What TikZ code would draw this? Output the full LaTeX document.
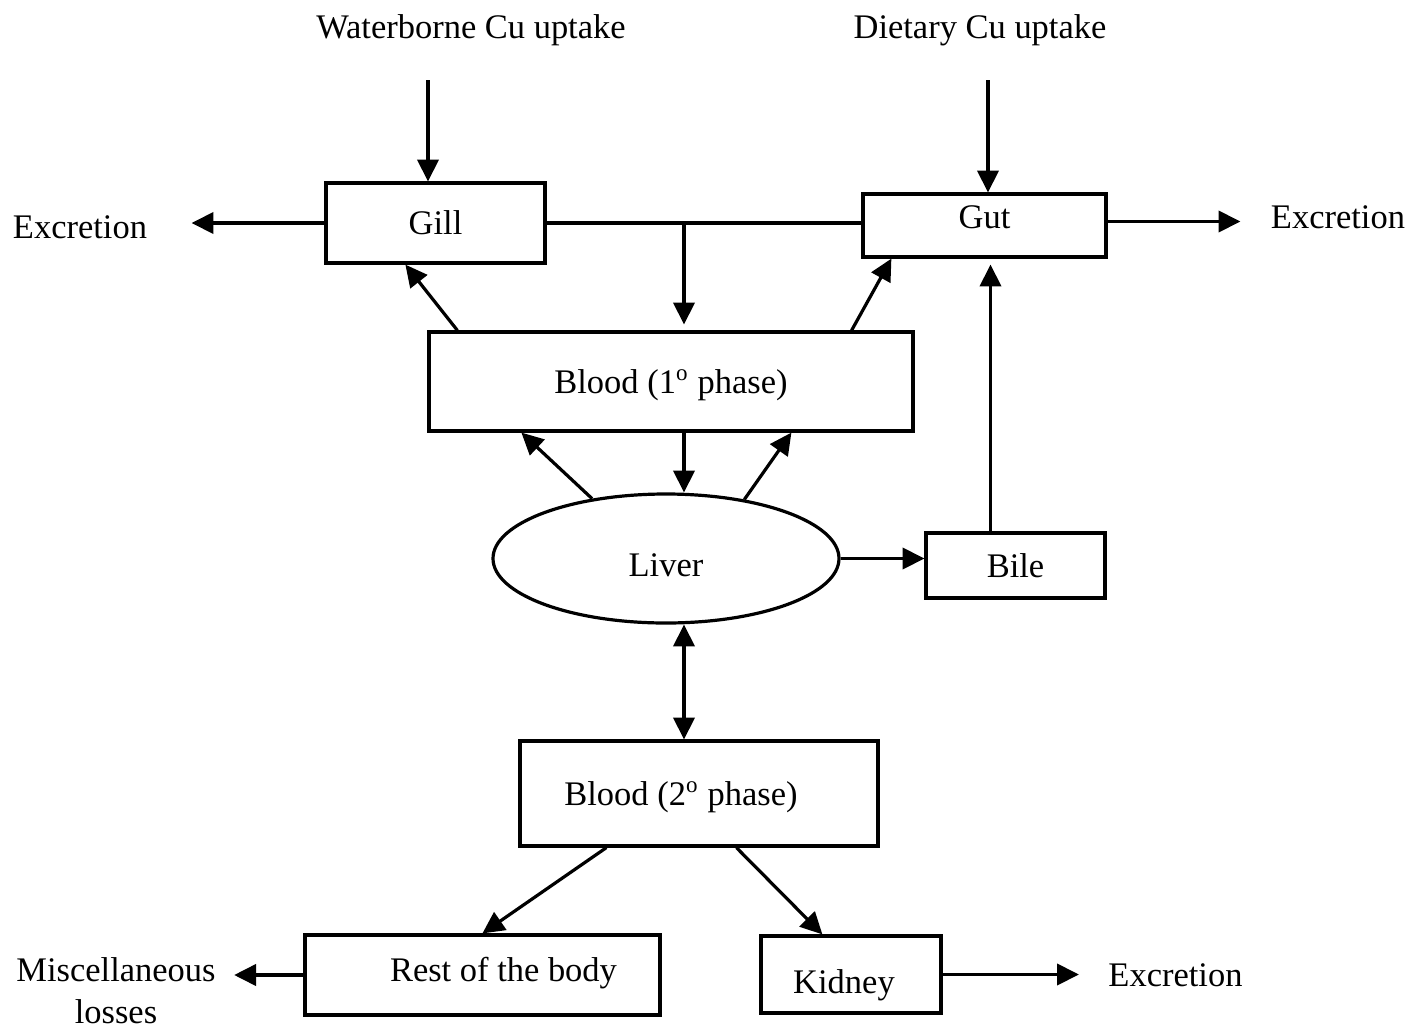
\documentclass[tikz,border=0pt]{standalone}
\usepackage{fontspec}
\setmainfont{Liberation Serif}
\usetikzlibrary{arrows.meta,shapes.geometric}
\newlength{\pxu}
\setlength{\pxu}{0.348pt}
\tikzset{
  blk/.style={draw, inner sep=0pt, text height=23\pxu, text depth=0pt},
  org/.style={blk, ellipse},
  lbl/.style={inner sep=0pt},
  fl/.style={-{Triangle[length=7.6pt,width=7.4pt]}},
  fl2/.style={{Triangle[length=7.6pt,width=7.4pt]}-{Triangle[length=7.6pt,width=7.4pt]}}
}

\begin{document}
\begin{tikzpicture}[x=\pxu, y=-\pxu, line width=3.2\pxu, font=\fontsize{12}{14.6}\selectfont]
\useasboundingbox (0,0) rectangle (1407,1030);
% uptake routes
\node[lbl] (water) at (471,30) {Waterborne Cu uptake};
\node[lbl] (diet) at (980,30) {Dietary Cu uptake};
\coordinate (wIn) at (428,80);
\coordinate (dIn) at (988,80);
% compartments
\node[blk, minimum width=219\pxu, minimum height=80\pxu] (gill) at (435.5,223) {Gill};
\node[blk, minimum width=243\pxu, minimum height=63\pxu, text depth=18\pxu] (gut) at (984.5,225.5) {Gut};
\node[blk, minimum width=484\pxu, minimum height=99\pxu] (bl1) at (671,381.5) {Blood (1\textsuperscript{o} phase)};
\node[org, minimum width=346\pxu, minimum height=129\pxu, text height=36\pxu] (liver) at (666,558.5) {Liver};
\node[blk, minimum width=179\pxu, minimum height=65\pxu] (bile) at (1015.5,565.5) {Bile};
\node[blk, minimum width=358\pxu, minimum height=105\pxu] (bl2) at (699,793.5) {Blood (2\textsuperscript{o} phase)\hspace*{36\pxu}};
\node[blk, minimum width=355\pxu, minimum height=80\pxu, text depth=11\pxu] (rest) at (482.5,975) {\hspace*{42\pxu}Rest of the body};
\node[blk, minimum width=180\pxu, minimum height=77\pxu, text height=38\pxu] (kid) at (851,974.5) {Kidney\hspace*{14\pxu}};
% losses
\node[lbl] (exL) at (80,227) {Excretion};
\node[lbl] (exR) at (1338,217) {Excretion};
\node[lbl, align=center] (misc) at (116,991) {Miscellaneous\\losses};
\node[lbl] (exK) at (1175.5,975) {Excretion};
% flows
\coordinate (j) at (684,223);
\coordinate (bt) at ([xshift=-25\pxu]bile.north);
\draw[fl] (wIn) -- (wIn |- gill.north);
\draw[fl] (dIn) -- (dIn |- gut.north);
\draw[fl, shorten >=43\pxu] (gill.west) -- (gill.west -| exL.east);
\draw[fl, shorten >=29\pxu] ([yshift=4\pxu]gut.east) -- ([yshift=4\pxu]gut.east -| exR.west);
\draw (gill.east) -- (gill.east -| gut.west);
\draw[fl, shorten >=6\pxu] (j) -- (j |- bl1.north);
\draw[fl] ([xshift=30\pxu]bl1.north west) -- ([xshift=81\pxu]gill.south west);
\draw[fl] ([xshift=-63\pxu]bl1.north east) -- ([xshift=30\pxu]gut.south west);
\draw[fl] (liver.141) -- ([xshift=94\pxu]bl1.south west);
\draw[fl] (j |- bl1.south) -- (j |- liver.north);
\draw[fl] (liver.37) -- ([xshift=364\pxu]bl1.south west);
\draw[fl] (liver.east) -- (liver.east -| bile.west);
\draw[fl, shorten >=6\pxu] (bt) -- (bt |- gut.south);
\draw[fl2] (j |- liver.south) -- (j |- bl2.north);
\draw[fl] ([xshift=88\pxu]bl2.south west) -- ([xshift=179\pxu]rest.north west);
\draw[fl] ([xshift=218\pxu]bl2.south west) -- ([xshift=63\pxu]kid.north west);
\draw[fl, shorten >=17\pxu] (rest.west) -- (rest.west -| misc.east);
\draw[fl, shorten >=28\pxu] (kid.east) -- (kid.east -| exK.west);
\end{tikzpicture}
\end{document}
